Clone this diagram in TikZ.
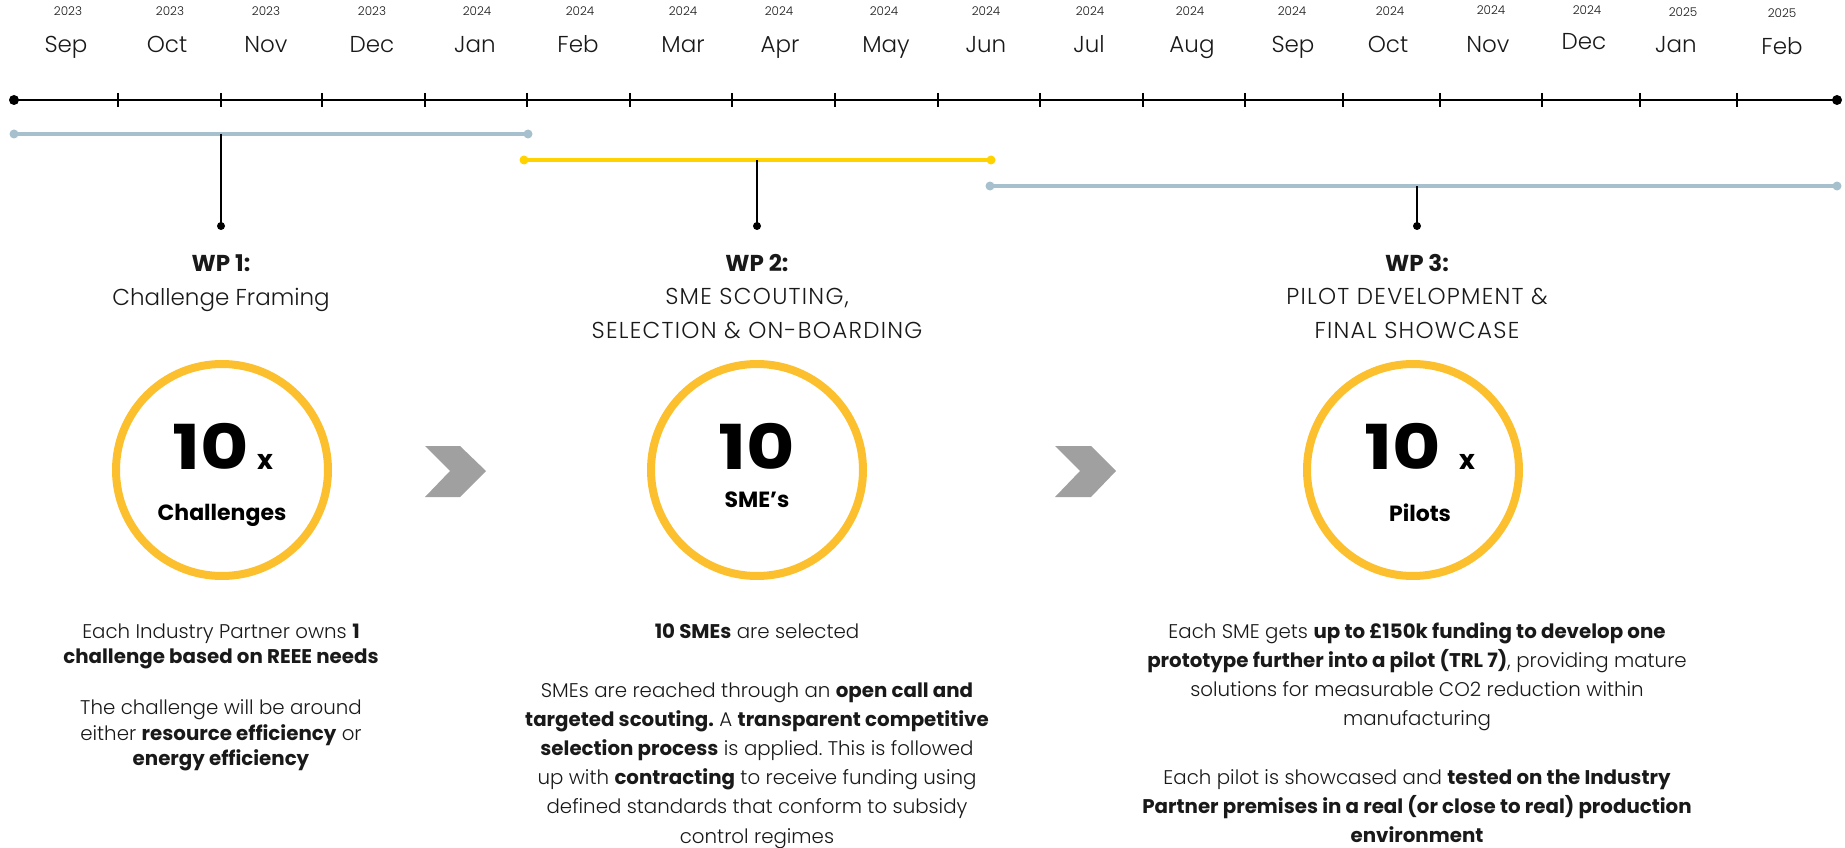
\documentclass[tikz,border=0pt]{standalone}
\usepackage{fontspec}
\setmainfont{Poppins}[UprightFont=* Light, BoldFont=* Bold]
\definecolor{ringcol}{RGB}{252,192,46}
\definecolor{wpyellow}{RGB}{255,210,0}
\definecolor{wpblue}{RGB}{167,192,206}
\definecolor{chev}{RGB}{160,160,160}
\definecolor{ink}{RGB}{25,25,25}
\newcommand{\capsp}[1]{{\addfontfeature{LetterSpace=5.5}#1}}
\frenchspacing
\begin{document}
\begin{tikzpicture}[x=1pt,y=-1pt,
  yearlbl/.style={anchor=base, inner sep=0, font=\fontsize{12}{14}\selectfont, text=ink},
  monthlbl/.style={anchor=base, inner sep=0, font=\fontsize{23}{26}\selectfont, text=ink},
  axisline/.style={line width=2.4pt, black},
  tickmark/.style={line width=2pt, black},
  wpbar/.style={line width=3.5pt},
  stem/.style={line width=2pt, black},
  ringnode/.style={circle, draw=ringcol, line width=8pt, minimum size=212pt, inner sep=0},
  wphead/.style={anchor=base, inner sep=0, align=center, font=\fontsize{23}{33.5}\selectfont, text=ink},
  bodyA/.style={anchor=base, inner sep=0, align=center, font=\fontsize{19.8}{25.5}\selectfont, text=ink},
  bodyB/.style={anchor=base, inner sep=0, align=center, font=\fontsize{19.8}{29.2}\selectfont, text=ink},
  bignum/.style={anchor=base, inner sep=0, font=\fontsize{62}{64}\selectfont\bfseries, text=black},
  timesx/.style={anchor=base, inner sep=0, font=\fontsize{27}{28}\selectfont\bfseries, text=black},
  circlbl/.style={anchor=base, inner sep=0, font=\fontsize{22}{26}\selectfont\bfseries, text=black},
  chevron/.style={fill=chev, draw=none}
]
\path[use as bounding box] (0,0) rectangle (1845,848);

% years
\foreach \x/\yv/\y [count=\i] in {68/16/2023,170/16/2023,266/16/2023,372/16/2023,477/16/2024,580/16/2024,683/16/2024,779/16/2024,884/16/2024,986/16/2024,1090/16/2024,1190/16/2024,1292/16/2024,1390/16/2024,1491/15/2024,1587/15/2024,1683/17/2025,1782/18/2025}
  \node[yearlbl] (yr\i) at (\x,\yv) {\y};
% months
\foreach \x/\yv/\m [count=\i] in {66/53/Sep,167/53/Oct,266/53/Nov,372/53/Dec,475/53/Jan,578/53/Feb,683/53/Mar,780/53/Apr,886/53/May,986/53/Jun,1089/53/Jul,1192/53/Aug,1293/53/Sep,1388/53/Oct,1488/53/Nov,1584/50/Dec,1676/53/Jan,1782/55/Feb}
  \node[monthlbl] (mo\i) at (\x,\yv) {\m};

% main axis
\coordinate (ax0) at (14,100);
\coordinate (ax1) at (1837,100);
\draw[axisline] (ax0) -- (ax1);
\fill (ax0) circle (5);
\fill (ax1) circle (5);
\foreach \x in {118,221,322,425,527,630,732,835,938,1040,1143,1245,1343,1440,1542,1640,1737}
  \draw[tickmark] (\x,93) -- (\x,107);

% WP bars
\coordinate (b1a) at (14,134);  \coordinate (b1b) at (528,134);
\coordinate (b2a) at (524,160); \coordinate (b2b) at (991,160);
\coordinate (b3a) at (990,186); \coordinate (b3b) at (1837,186);
\draw[wpbar, wpblue] (b1a) -- (b1b);
\fill[wpblue] (b1a) circle (4.5); \fill[wpblue] (b1b) circle (4.5);
\draw[wpbar, wpyellow] (b2a) -- (b2b);
\fill[wpyellow] (b2a) circle (4.5); \fill[wpyellow] (b2b) circle (4.5);
\draw[wpbar, wpblue] (b3a) -- (b3b);
\fill[wpblue] (b3a) circle (4.5); \fill[wpblue] (b3b) circle (4.5);

% stems
\coordinate (s1a) at (221,134); \coordinate (s1b) at (221,226);
\coordinate (s2a) at (757,160); \coordinate (s2b) at (757,226);
\coordinate (s3a) at (1417,186); \coordinate (s3b) at (1417,226);
\draw[stem] (s1a) -- (s1b); \fill (s1b) circle (4);
\draw[stem] (s2a) -- (s2b); \fill (s2b) circle (4);
\draw[stem] (s3a) -- (s3b); \fill (s3b) circle (4);

% headings (anchor = baseline of last line)
\node[wphead] (h1) at (221,305) {\textbf{WP 1:}\\Challenge Framing};
\node[wphead] (h2) at (757,338) {\textbf{WP 2:}\\\capsp{SME SCOUTING,}\\\capsp{SELECTION \& ON-BOARDING}};
\node[wphead] (h3) at (1417,338) {\textbf{WP 3:}\\\capsp{PILOT DEVELOPMENT \&}\\\capsp{FINAL SHOWCASE}};

% rings
\node[ringnode] (c1) at (222,470) {};
\node[ringnode] (c2) at (757,470) {};
\node[ringnode] (c3) at (1413,470) {};

\node[bignum] (n1) at (211,469) {\scalebox{1.2}[1]{10}};
\node[timesx] (x1) at (265,469) {x};
\node[circlbl] (l1) at (222,520) {Challenges};
\node[bignum] (n2) at (757,469) {\scalebox{1.2}[1]{10}};
\node[circlbl] (l2) at (757,507) {SME’s};
\node[bignum] (n3) at (1403,469) {\scalebox{1.2}[1]{10}};
\node[timesx] (x3) at (1467,469) {x};
\node[circlbl] (l3) at (1420,521) {Pilots};

% chevrons
\fill[chevron] (425,446) -- (460,446) -- (486,471) -- (460,497) -- (425,497) -- (450,471) -- cycle;
\fill[chevron] (1055,446) -- (1091,446) -- (1116,471) -- (1091,497) -- (1055,497) -- (1080,471) -- cycle;

% body texts (anchor = baseline of last line)
\node[bodyA] (t1a) at (221,663.5) {Each Industry Partner owns \textbf{1}\\\textbf{challenge based on REEE needs}};
\node[bodyA] (t1b) at (221,765.5) {The challenge will be around\\either \textbf{resource efficiency} or\\\textbf{energy efficiency}};

\node[bodyB] (t2a) at (757,638) {\textbf{10 SMEs} are selected};
\node[bodyB] (t2b) at (757,843) {SMEs are reached through an \textbf{open call and}\\\textbf{targeted scouting.} A \textbf{transparent competitive}\\\textbf{selection process} is applied. This is followed\\up with \textbf{contracting} to receive funding using\\defined standards that conform to subsidy\\control regimes};

\node[bodyB] (t3a) at (1417,725.6) {Each SME gets \textbf{up to £150k funding to develop one}\\\textbf{prototype further into a pilot (TRL 7)}, providing mature\\solutions for measurable CO2 reduction within\\manufacturing};
\node[bodyB] (t3b) at (1417,842.4) {Each pilot is showcased and \textbf{tested on the Industry}\\\textbf{Partner premises in a real (or close to real) production}\\\textbf{environment}};
\end{tikzpicture}
\end{document}
